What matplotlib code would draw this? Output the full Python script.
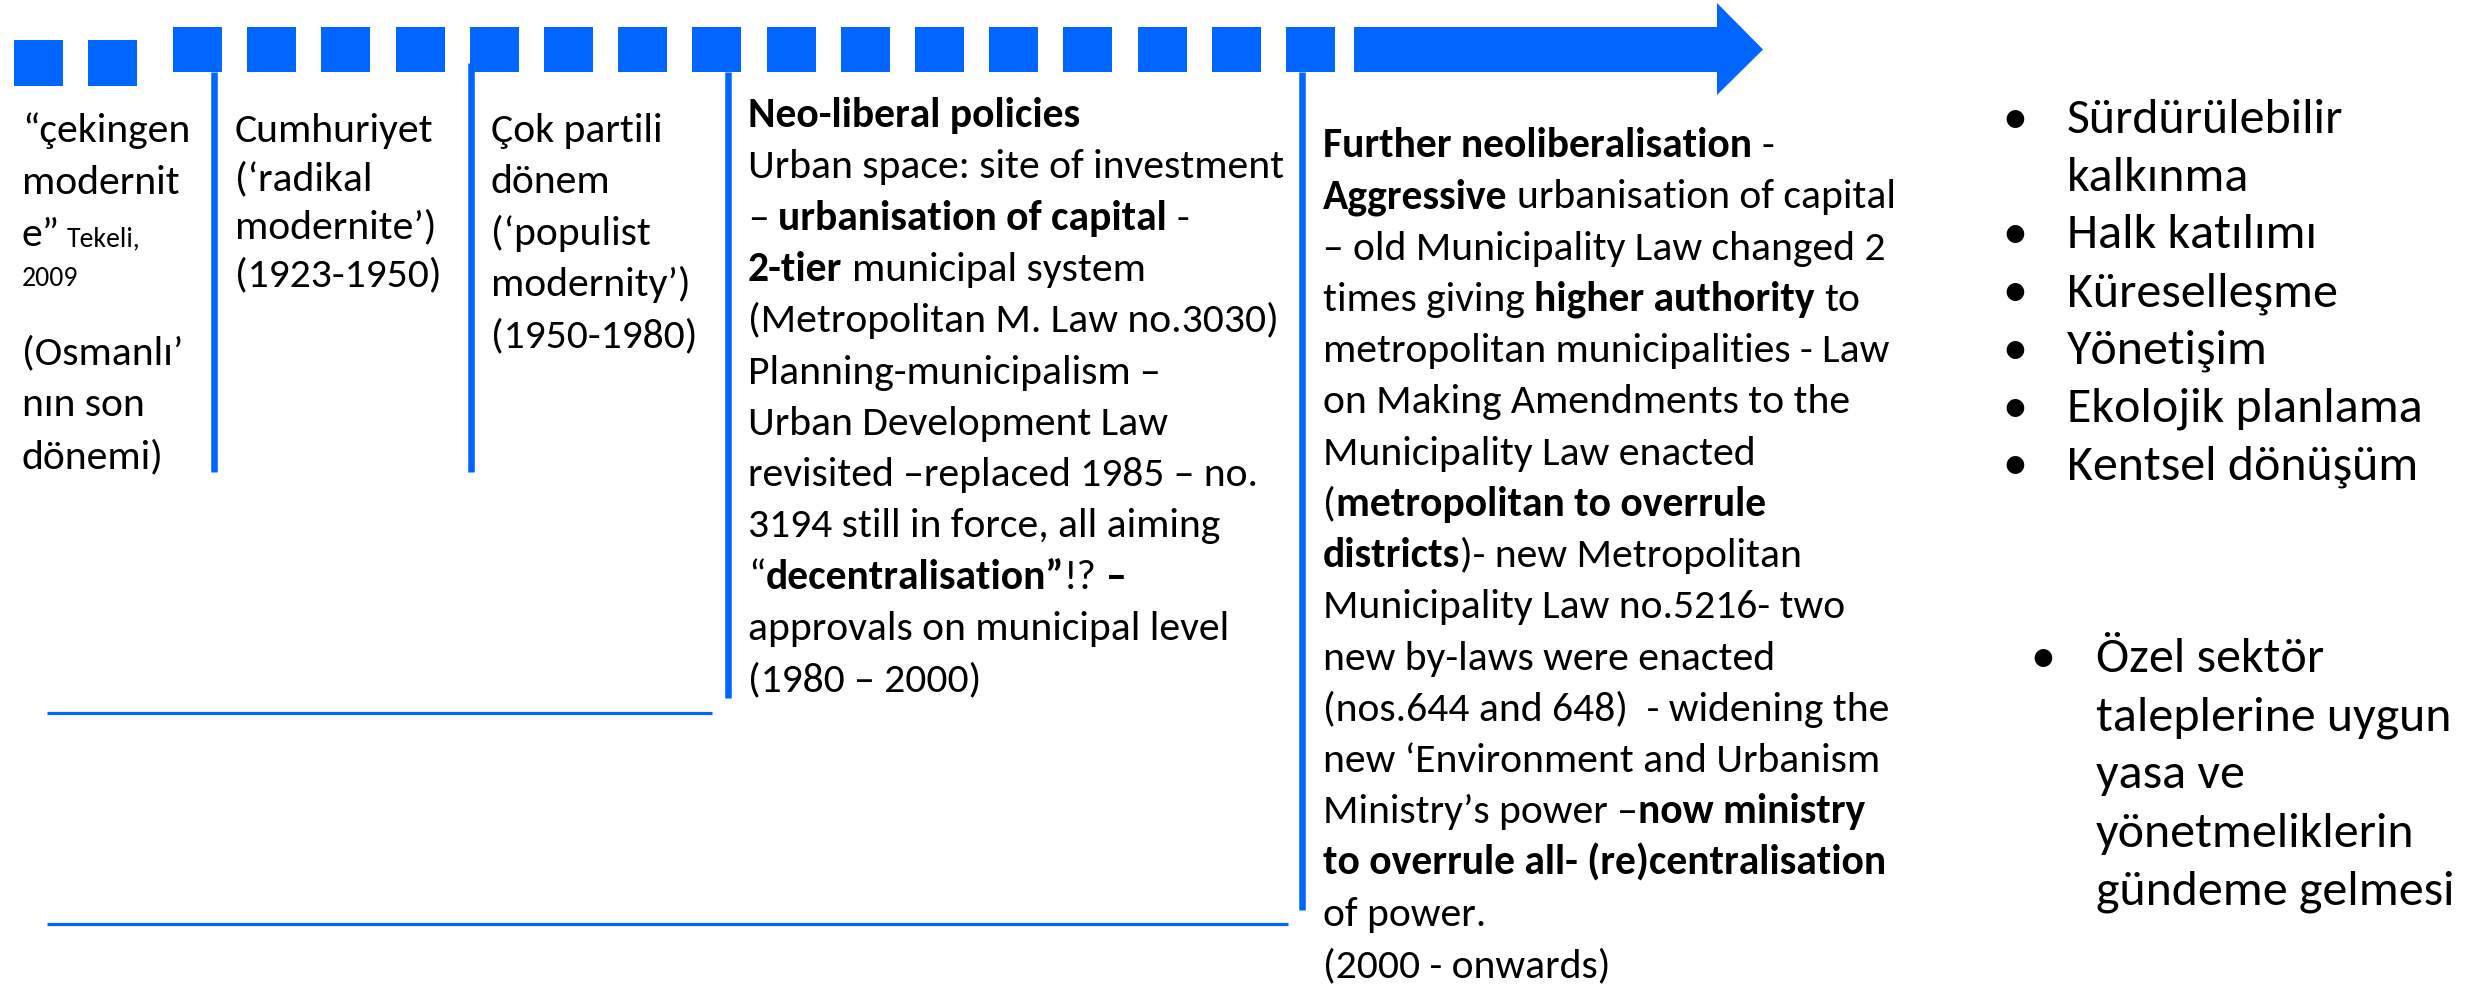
import matplotlib
matplotlib.use('Agg')
import matplotlib.pyplot as plt
from matplotlib.patches import Rectangle, Polygon
from matplotlib import font_manager

# ---------------------------------------------------------------
# content
# ---------------------------------------------------------------
# each line = list of (text, style); style: n normal, b bold, s small
ottoman_lines = [
    [("“çekingen", "n")],
    [("modernit", "n")],
    [("e”", "n"), (" Tekeli,", "s")],
    [("2009", "s")],
    [],
    [("(Osmanlı’", "n")],
    [("nın son", "n")],
    [("dönemi)", "n")],
]

republic_lines = [
    [("Cumhuriyet", "n")],
    [("(‘radikal", "n")],
    [("modernite’)", "n")],
    [("(1923-1950)", "n")],
]

multiparty_lines = [
    [("Çok partili", "n")],
    [("dönem", "n")],
    [("(‘populist", "n")],
    [("modernity’)", "n")],
    [("(1950-1980)", "n")],
]

neoliberal_lines = [
    [("Neo-liberal policies", "b")],
    [("Urban space: site of investment", "n")],
    [("– ", "n"), ("urbanisation of capital", "b"), (" -", "n")],
    [("2-tier", "b"), (" municipal system", "n")],
    [("(Metropolitan M. Law no.3030)", "n")],
    [("Planning-municipalism –", "n")],
    [("Urban Development Law", "n")],
    [("revisited –replaced 1985 – no.", "n")],
    [("3194 still in force, all aiming", "n")],
    [("“", "n"), ("decentralisation”", "b"), ("!? ", "n"), ("–", "b")],
    [("approvals on municipal level", "n")],
    [("(1980 – 2000)", "n")],
]

further_lines = [
    [("Further neoliberalisation", "b"), (" -", "n")],
    [("Aggressive", "b"), (" urbanisation of capital", "n")],
    [("– old Municipality Law changed 2", "n")],
    [("times giving ", "n"), ("higher authority", "b"), (" to", "n")],
    [("metropolitan municipalities - Law", "n")],
    [("on Making Amendments to the", "n")],
    [("Municipality Law enacted", "n")],
    [("(", "n"), ("metropolitan to overrule", "b")],
    [("districts", "b"), (")- new Metropolitan", "n")],
    [("Municipality Law no.5216- two", "n")],
    [("new by-laws were enacted", "n")],
    [("(nos.644 and 648)  - widening the", "n")],
    [("new ‘Environment and Urbanism", "n")],
    [("Ministry’s power –", "n"), ("now ministry", "b")],
    [("to overrule all- (re)centralisation", "b")],
    [("of power.", "n")],
    [("(2000 - onwards)", "n")],
]

trend_items = [
    ["Sürdürülebilir", "kalkınma"],
    ["Halk katılımı"],
    ["Küreselleşme"],
    ["Yönetişim"],
    ["Ekolojik planlama"],
    ["Kentsel dönüşüm"],
]

private_items = [
    ["Özel sektör", "taleplerine uygun", "yasa ve", "yönetmeliklerin", "gündeme gelmesi"],
]

# ---------------------------------------------------------------
# style
# ---------------------------------------------------------------
BLUE = '#0066FF'
W, H = 2473, 988


def pick_font(cands):
    names = {f.name for f in font_manager.fontManager.ttflist}
    for c in cands:
        if c in names:
            return c
    return 'DejaVu Sans'


FONT = pick_font(['Carlito', 'Liberation Sans Narrow', 'Lato'])
SIZE = 30
SMALL = 20
BIG = 36

fig = plt.figure(figsize=(W / 100, H / 100), dpi=100)
ax = fig.add_axes([0, 0, 1, 1])
ax.set_xlim(0, W)
ax.set_ylim(H, 0)
ax.axis('off')
renderer = fig.canvas.get_renderer()


def text_width(s, size, weight):
    t = ax.text(0, 0, s, fontsize=size, fontweight=weight, family=FONT)
    w = t.get_window_extent(renderer).width
    t.remove()
    return w


def draw_line(x, y, segs, size=SIZE):
    for s, style in segs:
        weight = 'bold' if style == 'b' else 'normal'
        fs = SMALL if style == 's' else size
        sp = text_width('a a', fs, weight) - text_width('aa', fs, weight)
        core = s.strip()
        lead = len(s) - len(s.lstrip())
        trail = len(s) - len(s.rstrip())
        x += lead * sp
        if core:
            ax.text(x, y, core, fontsize=fs, fontweight=weight, family=FONT,
                    va='baseline', ha='left', color='black')
            x += text_width(core, fs, weight)
        x += trail * sp


def draw_block(x, y0, lines, pitch, small_pitch=40, blank=38):
    y = y0
    for segs in lines:
        if not segs:
            y += blank
            continue
        draw_line(x, y + 12, segs)
        if any(st == 's' for _, st in segs):
            y += small_pitch
        else:
            y += pitch


def draw_bullets(xb, xt, y0, items, pitch):
    y = y0
    for item in items:
        ax.text(xb, y + 14, '•', fontsize=BIG, family=FONT, va='baseline', ha='center')
        for ln in item:
            ax.text(xt, y + 14, ln, fontsize=BIG, family=FONT, va='baseline', ha='left')
            y += pitch


# ---------------------------------------------------------------
# timeline arrow (dashed squares + arrow)
# ---------------------------------------------------------------
for x0 in (14, 88):
    ax.add_patch(Rectangle((x0, 40), 49, 46, color=BLUE, lw=0))
for i in range(16):
    ax.add_patch(Rectangle((173 + i * 74.2, 27), 49, 45, color=BLUE, lw=0))
ax.add_patch(Polygon([(1354, 27), (1717, 27), (1717, 3), (1763, 49.5),
                      (1717, 95), (1717, 72), (1354, 72)], closed=True, color=BLUE, lw=0))

# era separators
for x, y0, y1 in [(214, 72, 472), (471, 63, 472), (728, 72, 698), (1302, 72, 910)]:
    ax.plot([x, x], [y0, y1], color=BLUE, lw=4.7, solid_capstyle='butt')

ax.plot([47, 712], [712.5, 712.5], color=BLUE, lw=2.3, solid_capstyle='butt')
ax.plot([47, 1288], [923.5, 923.5], color=BLUE, lw=2.3, solid_capstyle='butt')

# ---------------------------------------------------------------
# texts
# ---------------------------------------------------------------
draw_block(22, 130, ottoman_lines, 52)
draw_block(235, 130, republic_lines, 48)
draw_block(491, 130, multiparty_lines, 51.3)
draw_block(748, 115, neoliberal_lines, 51.3)
draw_block(1323, 145, further_lines, 51.25)

draw_bullets(2015, 2067, 119, trend_items, 57.7)
draw_bullets(2043, 2096, 658, private_items, 58.2)

fig.savefig('out.png', dpi=100)
